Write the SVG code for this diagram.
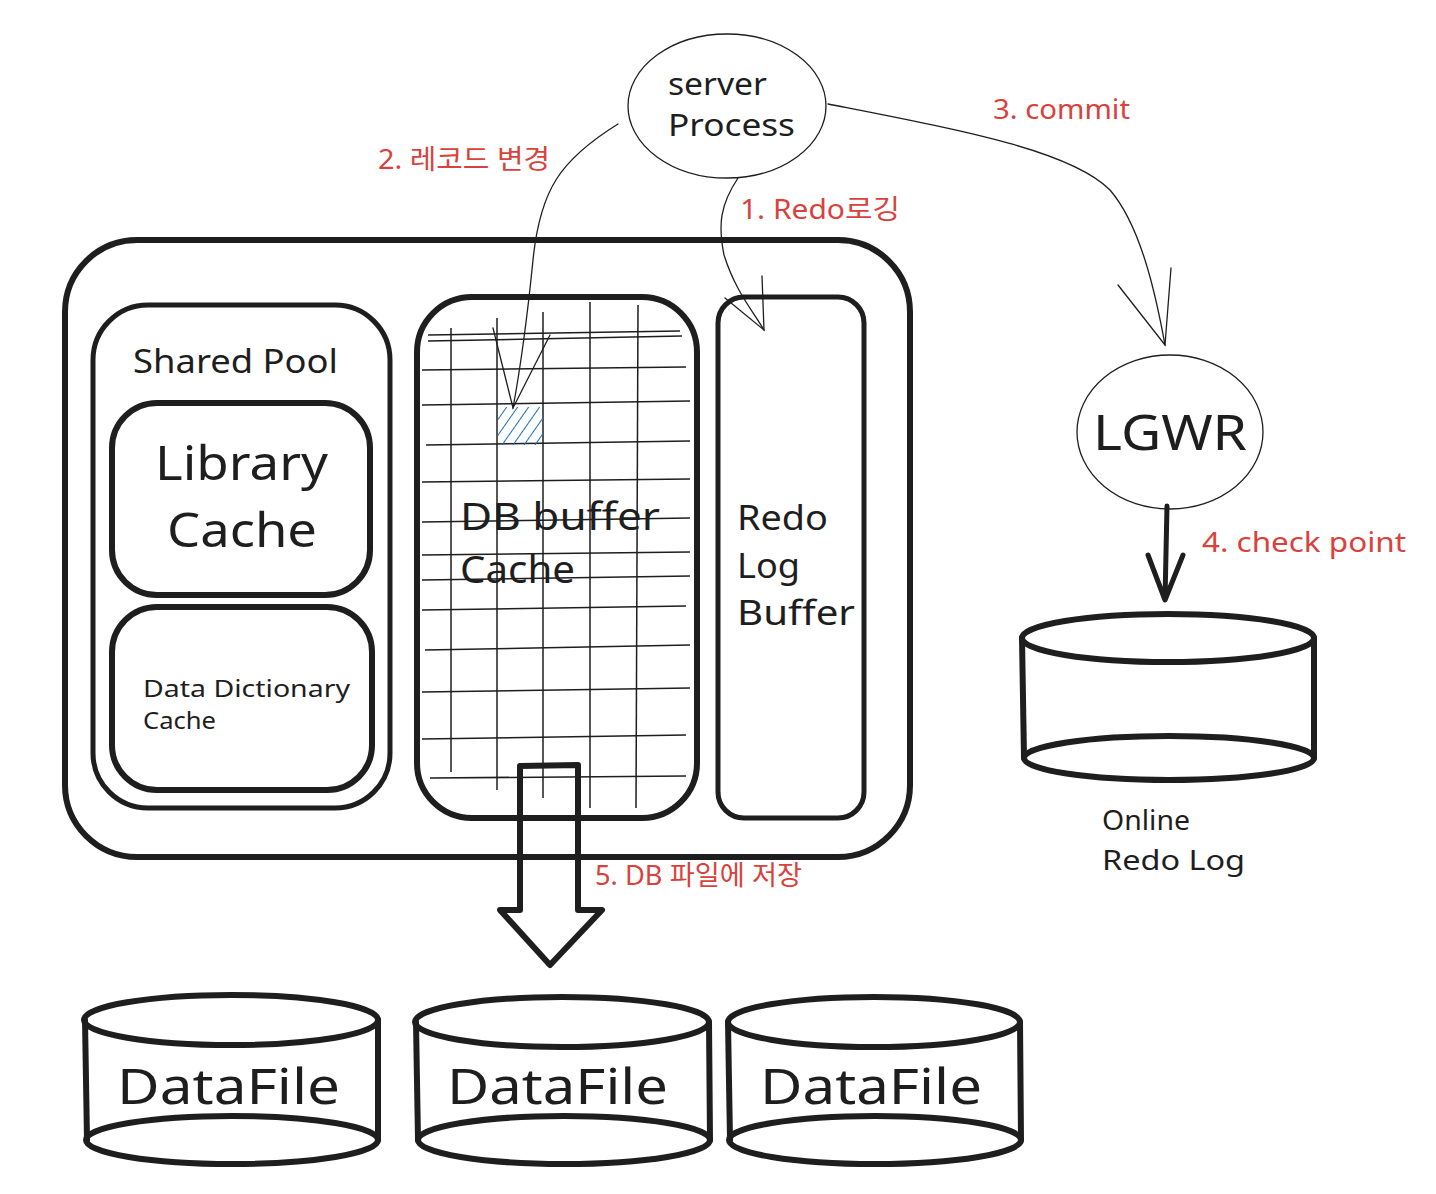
<svg xmlns="http://www.w3.org/2000/svg" width="1436" height="1194" viewBox="0 0 1436 1194">
<style>
.box{fill:none;stroke:#1e1e1e;stroke-linecap:round;stroke-linejoin:round}
.thin{fill:none;stroke:#1e1e1e;stroke-width:1.3;stroke-linecap:round}
.grid{stroke:#1e1e1e;stroke-width:1.5}
.t{font-family:"Noto Sans","Noto Sans CJK KR",sans-serif;fill:#1e1e1e}
.r{font-family:"Noto Sans","Noto Sans CJK KR",sans-serif;fill:#d9423c;font-size:27px}
</style>
<defs>
<pattern id="hatch" width="9" height="9" patternUnits="userSpaceOnUse" patternTransform="rotate(35)">
<line x1="0" y1="0" x2="0" y2="9" stroke="#1971c2" stroke-width="2"/>
</pattern>
</defs>
<rect width="1436" height="1194" fill="#ffffff"/>

<g id="sga">
<rect class="box" x="65" y="240" width="845" height="617" rx="72" stroke-width="6"/>
</g>

<g id="shared-pool">
<rect class="box" x="93" y="305" width="297" height="503" rx="55" stroke-width="5"/>
<text class="t" x="133" y="373" font-size="32" textLength="205" lengthAdjust="spacingAndGlyphs">Shared Pool</text>
</g>

<g id="library-cache">
<rect class="box" x="112" y="403" width="258" height="192" rx="45" stroke-width="6"/>
<text class="t" x="155" y="480" font-size="48" textLength="173" lengthAdjust="spacingAndGlyphs">Library</text>
<text class="t" x="167" y="547" font-size="48" textLength="150" lengthAdjust="spacingAndGlyphs">Cache</text>
</g>

<g id="data-dictionary-cache">
<rect class="box" x="112" y="607" width="260" height="183" rx="45" stroke-width="6"/>
<text class="t" x="143" y="697" font-size="24" textLength="207" lengthAdjust="spacingAndGlyphs">Data Dictionary</text>
<text class="t" x="143" y="729" font-size="24" textLength="73" lengthAdjust="spacingAndGlyphs">Cache</text>
</g>

<g id="db-buffer-cache">
<g class="grid">
<line x1="451" y1="328" x2="451" y2="772"/>
<line x1="497" y1="318" x2="497" y2="790"/>
<line x1="543" y1="312" x2="543" y2="798"/>
<line x1="590" y1="302" x2="590" y2="808"/>
<line x1="638" y1="305" x2="636" y2="808"/>
<line x1="428" y1="335" x2="680" y2="331"/>
<line x1="428" y1="341" x2="682" y2="336"/>
<line x1="422" y1="370" x2="686" y2="367"/>
<line x1="422" y1="405" x2="690" y2="401"/>
<line x1="426" y1="445" x2="690" y2="441"/>
<line x1="422" y1="482" x2="690" y2="479"/>
<line x1="422" y1="522" x2="690" y2="518"/>
<line x1="422" y1="555" x2="690" y2="552"/>
<line x1="422" y1="580" x2="690" y2="576"/>
<line x1="422" y1="610" x2="686" y2="606"/>
<line x1="425" y1="650" x2="690" y2="645"/>
<line x1="422" y1="692" x2="690" y2="688"/>
<line x1="422" y1="739" x2="686" y2="735"/>
<line x1="430" y1="778" x2="686" y2="776"/>
</g>
<rect x="498" y="407" width="45" height="38" fill="url(#hatch)"/>
<rect class="box" x="417" y="297" width="280" height="521" rx="55" stroke-width="6"/>
<text class="t" x="460" y="530" font-size="38" textLength="200" lengthAdjust="spacingAndGlyphs">DB buffer</text>
<text class="t" x="460" y="583" font-size="38" textLength="115" lengthAdjust="spacingAndGlyphs">Cache</text>
</g>

<g id="redo-log-buffer">
<rect class="box" x="718" y="297" width="146" height="521" rx="26" stroke-width="5"/>
<text class="t" x="737" y="530" font-size="34" textLength="91" lengthAdjust="spacingAndGlyphs">Redo</text>
<text class="t" x="737" y="578" font-size="34" textLength="63" lengthAdjust="spacingAndGlyphs">Log</text>
<text class="t" x="737" y="625" font-size="34" textLength="118" lengthAdjust="spacingAndGlyphs">Buffer</text>
</g>

<g id="server-process">
<ellipse class="thin" cx="727" cy="106" rx="99" ry="72"/>
<text class="t" x="668" y="95" font-size="30" textLength="99" lengthAdjust="spacingAndGlyphs">server</text>
<text class="t" x="668" y="136" font-size="30" textLength="127" lengthAdjust="spacingAndGlyphs">Process</text>
</g>

<g id="lgwr">
<ellipse class="thin" cx="1170" cy="432" rx="93" ry="77"/>
<text class="t" x="1093" y="450" font-size="50" textLength="154" lengthAdjust="spacingAndGlyphs">LGWR</text>
</g>

<g id="online-redo-log">
<path class="box" stroke-width="6" d="M1022,638 L1024,758 M1314,638 L1314,758"/>
<ellipse class="box" cx="1168" cy="638" rx="146" ry="24" stroke-width="6"/>
<path class="box" stroke-width="6" d="M1024,758 A145,22 0 0 0 1314,758 A145,22 0 0 0 1024,758"/>
<text class="t" x="1102" y="830" font-size="28" textLength="88" lengthAdjust="spacingAndGlyphs">Online</text>
<text class="t" x="1102" y="870" font-size="28" textLength="143" lengthAdjust="spacingAndGlyphs">Redo Log</text>
</g>

<g id="datafile-1">
<path class="box" stroke-width="6" d="M85,1020 L87,1140 M378,1020 L378,1140"/>
<ellipse class="box" cx="231" cy="1020" rx="147" ry="25" stroke-width="6"/>
<ellipse class="box" cx="232" cy="1140" rx="146" ry="24" stroke-width="6"/>
<text class="t" x="117" y="1104" font-size="50" textLength="223" lengthAdjust="spacingAndGlyphs">DataFile</text>
</g>

<g id="datafile-2">
<path class="box" stroke-width="6" d="M416,1022 L418,1140 M709,1022 L710,1140"/>
<ellipse class="box" cx="562" cy="1022" rx="147" ry="25" stroke-width="6"/>
<ellipse class="box" cx="564" cy="1140" rx="146" ry="24" stroke-width="6"/>
<text class="t" x="447" y="1104" font-size="50" textLength="221" lengthAdjust="spacingAndGlyphs">DataFile</text>
</g>

<g id="datafile-3">
<path class="box" stroke-width="6" d="M728,1022 L730,1140 M1020,1022 L1021,1140"/>
<ellipse class="box" cx="874" cy="1022" rx="146" ry="25" stroke-width="6"/>
<ellipse class="box" cx="875" cy="1140" rx="146" ry="24" stroke-width="6"/>
<text class="t" x="760" y="1104" font-size="50" textLength="222" lengthAdjust="spacingAndGlyphs">DataFile</text>
</g>

<g id="connectors">
<path class="thin" d="M618,124 C560,160 540,190 533,260 C527,320 520,370 513,408"/>
<path class="thin" d="M493,328 L513,408 L550,335"/>
<path class="thin" d="M738,178 C720,205 718,225 724,255 C735,290 752,310 764,330"/>
<path class="thin" d="M725,298 L764,330 L762,276"/>
<path class="thin" d="M828,104 C960,130 1070,150 1110,190 C1140,225 1155,290 1165,345"/>
<path class="thin" d="M1118,285 L1165,345 L1171,268"/>
<path class="box" stroke-width="5" d="M1167,506 L1165,600 M1148,555 L1165,600 L1183,555"/>
<path class="box" stroke-width="6" d="M520,766 L520,910 L500,910 L550,965 L602,910 L578,910 L578,765 Z"/>
<text class="r" x="740" y="219" textLength="160" lengthAdjust="spacingAndGlyphs">1. Redo로깅</text>
<text class="r" x="378" y="169" textLength="172" lengthAdjust="spacingAndGlyphs">2. 레코드 변경</text>
<text class="r" x="993" y="119" textLength="137" lengthAdjust="spacingAndGlyphs">3. commit</text>
<text class="r" x="1202" y="552" textLength="204" lengthAdjust="spacingAndGlyphs">4. check point</text>
<text class="r" x="595" y="885" textLength="207" lengthAdjust="spacingAndGlyphs">5. DB 파일에 저장</text>
</g>
</svg>
